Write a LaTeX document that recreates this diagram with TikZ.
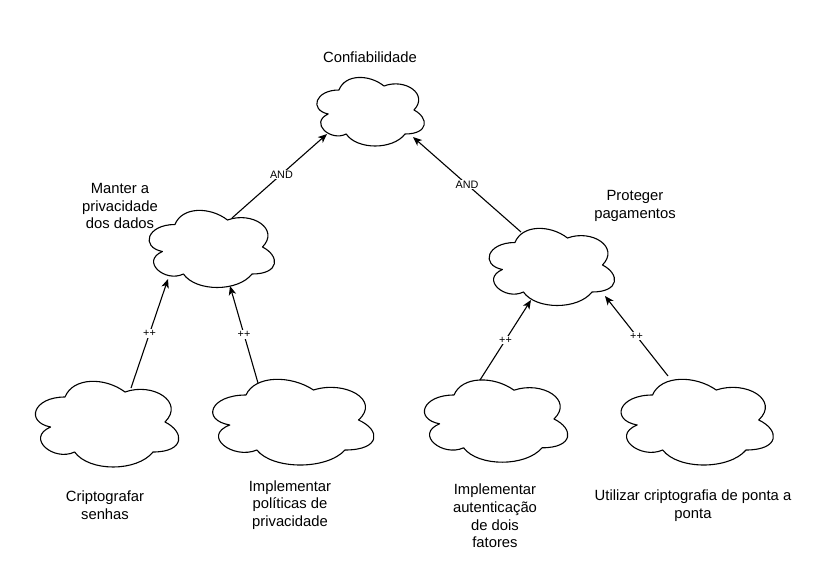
\documentclass[tikz,border=0pt]{standalone}
\usepackage{fontspec}
\setmainfont{Liberation Sans}
\usetikzlibrary{arrows.meta,calc}

\tikzset{
  cloudline/.style={draw=black, line width=1.1pt, fill=white, line join=round},
  cloudbox/.style={inner sep=0pt, outer sep=0pt, draw=none},
  goaltext/.style={align=center, inner sep=0pt, font=\fontsize{14.8}{17.7}\selectfont},
  link/.style={line width=1.1pt, -{Stealth[length=9pt,width=7.5pt,inset=2.5pt]}},
  linklabel/.style={fill=white, inner sep=1pt, font=\fontsize{10.8}{12}\selectfont}
}

\newcommand\cloudat[5]{%
  \begin{scope}[shift={(#2pt,-#3pt)}, x={(#4pt,0pt)}, y={(0pt,-#5pt)}]
    \draw[cloudline] (0.25,0.25) .. controls (0.05,0.25) and (0,0.5) .. (0.16,0.55)
      .. controls (0,0.66) and (0.18,0.9) .. (0.31,0.8)
      .. controls (0.4,1) and (0.7,1) .. (0.8,0.8)
      .. controls (1,0.8) and (1,0.6) .. (0.875,0.5)
      .. controls (1,0.3) and (0.8,0.1) .. (0.625,0.2)
      .. controls (0.5,0.05) and (0.3,0.05) .. (0.25,0.25) -- cycle;
    \node[cloudbox, minimum width=#4pt, minimum height=#5pt] (#1) at (0.5,0.5) {};
  \end{scope}}

\begin{document}
\begin{tikzpicture}[x=1pt, y=-1pt]
  \fill[white] (0,0) rectangle (827,583);
  \useasboundingbox (0,0) rectangle (827,583);

  % clouds
  \cloudat{top}{309}{70}{120}{80}
  \cloudat{priv}{140}{202}{140}{90}
  \cloudat{pay}{480}{220}{140}{90}
  \cloudat{cript}{25}{372}{160}{100}
  \cloudat{polit}{201}{370}{180}{100}
  \cloudat{auth}{414}{371}{160}{96}
  \cloudat{e2e}{610}{370}{170}{100}

  % labels
  \node[goaltext] (ltop) at (370,57) {Confiabilidade};
  \node[goaltext] (lpriv) at (120,206) {Manter a\\privacidade\\dos dados};
  \node[goaltext] (lpay) at (635,206) {Proteger\\pagamentos};
  \node[goaltext] (lcript) at (105,505) {Criptografar\\senhas};
  \node[goaltext] (lpolit) at (290,505) {Implementar\\políticas de\\privacidade};
  \node[goaltext] (lauth) at (495,516) {Implementar\\autenticação\\de dois\\fatores};
  \node[goaltext] (le2e) at (693,506) {Utilizar criptografia de ponta a\\ponta};

  % ports on cloud outlines
  \coordinate (priv-out) at (232,218);
  \coordinate (top-inL) at (327,134);
  \coordinate (pay-out) at (521,232);
  \coordinate (top-inR) at (413,137);
  \coordinate (cript-out) at (131,388);
  \coordinate (priv-inL) at (168,279);
  \coordinate (polit-out) at (258,383);
  \coordinate (priv-inR) at (230,286);
  \coordinate (auth-out) at (480,380);
  \coordinate (pay-inL) at (531,300);
  \coordinate (e2e-out) at (668,376);
  \coordinate (pay-inR) at (605,296);

  % connectors
  \draw[link] (priv-out) -- node[linklabel, pos=0.52] (and1) {AND} (top-inL);
  \draw[link] (pay-out) -- node[linklabel, pos=0.5] (and2) {AND} (top-inR);
  \draw[link] (cript-out) -- node[linklabel, pos=0.5] (pp1) {++} (priv-inL);
  \draw[link] (polit-out) -- node[linklabel, pos=0.5] (pp2) {++} (priv-inR);
  \draw[link] (auth-out) -- node[linklabel, pos=0.5] (pp3) {++} (pay-inL);
  \draw[link] (e2e-out) -- node[linklabel, pos=0.5] (pp4) {++} (pay-inR);
\end{tikzpicture}
\end{document}
